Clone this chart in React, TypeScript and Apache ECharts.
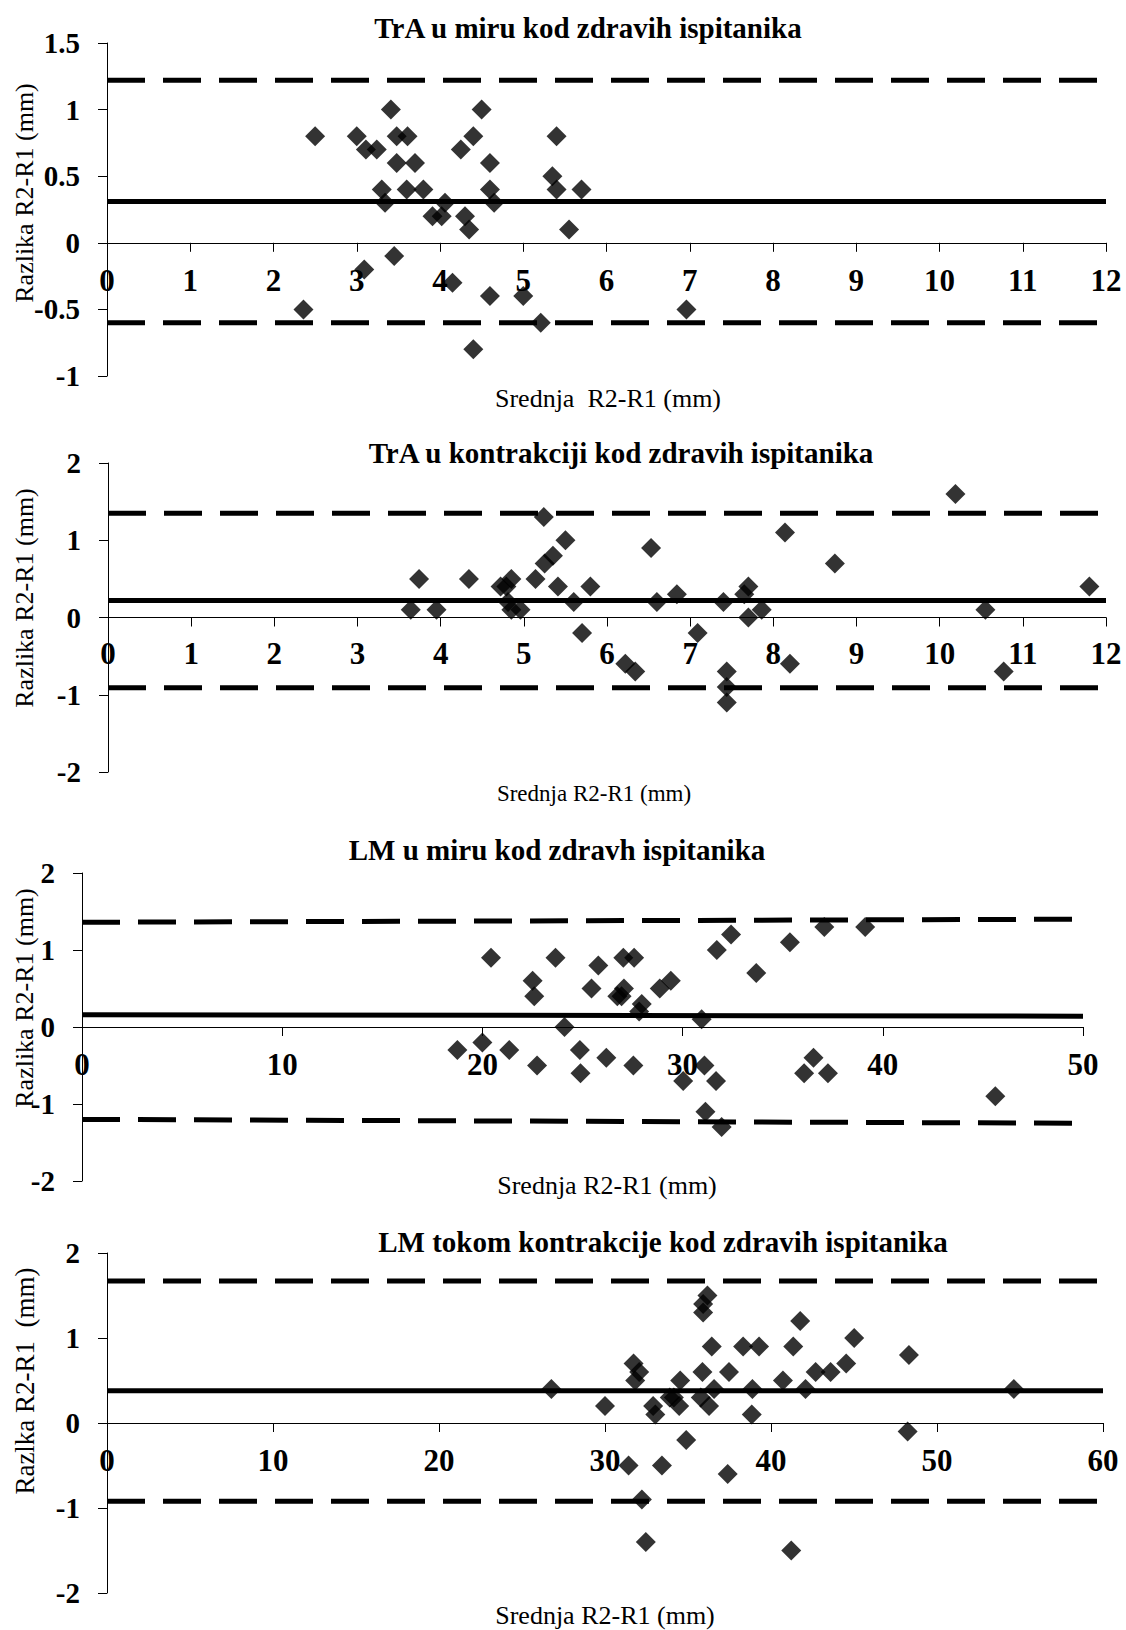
import React, { useEffect, useRef } from "react";
import * as echarts from "echarts";

const FONT = '"Liberation Serif", "Times New Roman", serif';

// ---- Panel 1: TrA u miru ----
const p1Title = "TrA u miru kod zdravih ispitanika";
const p1XName = "Srednja\u00a0 R2-R1 (mm)";
const p1YName = "Razlika R2-R1 (mm)";
const p1X = [2.5, 3.0, 3.11, 3.24, 3.41, 3.48, 3.61, 3.48, 3.7, 3.3, 3.6, 3.8, 3.34, 4.06, 3.91, 4.02, 4.3, 4.35, 4.25, 4.4, 4.5, 4.6, 4.6, 4.65, 3.45, 3.09, 4.15, 4.6, 5.0, 2.36, 5.21, 6.96, 4.4, 5.35, 5.4, 5.4, 5.7, 5.55];
const p1Y = [0.8, 0.8, 0.7, 0.7, 1.0, 0.8, 0.8, 0.6, 0.6, 0.4, 0.4, 0.4, 0.3, 0.3, 0.2, 0.2, 0.2, 0.1, 0.7, 0.8, 1.0, 0.6, 0.4, 0.3, -0.1, -0.2, -0.3, -0.4, -0.4, -0.5, -0.6, -0.5, -0.8, 0.5, 0.4, 0.8, 0.4, 0.1];
const p1Upper = [1.22, 1.22];
const p1Mean = [0.31, 0.31];
const p1Lower = [-0.6, -0.6];

// ---- Panel 2: TrA u kontrakciji ----
const p2Title = "TrA u kontrakciji kod zdravih ispitanika";
const p2XName = "Srednja R2-R1 (mm)";
const p2YName = "Razlika R2-R1 (mm)";
const p2X = [3.64, 3.74, 3.95, 4.34, 4.72, 4.85, 4.79, 4.81, 4.85, 4.96, 5.14, 5.24, 5.25, 5.35, 5.41, 5.5, 5.6, 5.7, 5.8, 6.22, 6.34, 6.53, 6.6, 6.84, 7.09, 7.4, 7.44, 7.44, 7.44, 7.65, 7.7, 7.7, 7.86, 8.14, 8.2, 8.74, 10.19, 10.55, 10.77, 11.8];
const p2Y = [0.1, 0.5, 0.1, 0.5, 0.4, 0.5, 0.4, 0.2, 0.1, 0.1, 0.5, 1.3, 0.7, 0.8, 0.4, 1.0, 0.2, -0.2, 0.4, -0.6, -0.7, 0.9, 0.2, 0.3, -0.2, 0.2, -0.7, -0.9, -1.1, 0.3, 0.4, 0.0, 0.1, 1.1, -0.6, 0.7, 1.6, 0.1, -0.7, 0.4];
const p2Upper = [1.35, 1.35];
const p2Mean = [0.22, 0.22];
const p2Lower = [-0.91, -0.91];

// ---- Panel 3: LM u miru ----
const p3Title = "LM u miru kod zdravh ispitanika";
const p3XName = "Srednja R2-R1 (mm)";
const p3YName = "Razlika R2-R1 (mm)";
const p3X = [18.75, 20.0, 20.43, 21.34, 22.51, 22.59, 22.73, 23.65, 24.1, 24.87, 24.9, 25.45, 25.79, 26.19, 26.74, 26.95, 27.04, 27.07, 27.58, 27.54, 27.96, 27.83, 28.86, 29.41, 30.03, 30.95, 31.09, 31.14, 31.67, 31.71, 31.95, 32.42, 33.68, 35.36, 36.07, 36.54, 37.08, 37.26, 39.12, 45.62];
const p3Y = [-0.3, -0.2, 0.9, -0.3, 0.6, 0.4, -0.5, 0.9, 0.0, -0.3, -0.6, 0.5, 0.8, -0.4, 0.4, 0.4, 0.9, 0.5, 0.9, -0.5, 0.3, 0.2, 0.5, 0.6, -0.7, 0.1, -0.5, -1.1, -0.7, 1.0, -1.3, 1.2, 0.7, 1.1, -0.6, -0.4, 1.3, -0.6, 1.3, -0.9];
const p3Upper = [1.36, 1.4];
const p3Mean = [0.16, 0.14];
const p3Lower = [-1.2, -1.25];

// ---- Panel 4: LM tokom kontrakcije ----
const p4Title = "LM tokom kontrakcije kod zdravih ispitanika";
const p4XName = "Srednja R2-R1 (mm)";
const p4YName = "Razlka R2-R1\u00a0 (mm)";
const p4X = [26.77, 30.0, 31.42, 31.72, 31.82, 32.06, 32.22, 32.46, 32.9, 33.03, 33.43, 33.9, 34.15, 34.47, 34.53, 34.89, 35.91, 36.17, 35.91, 35.87, 35.77, 36.27, 36.57, 36.43, 37.47, 37.39, 38.32, 38.88, 38.84, 39.28, 40.72, 41.22, 41.34, 41.76, 42.08, 42.69, 43.59, 44.53, 45.01, 48.23, 48.31, 54.63];
const p4Y = [0.4, 0.2, -0.5, 0.7, 0.5, 0.6, -0.9, -1.4, 0.2, 0.1, -0.5, 0.3, 0.3, 0.2, 0.5, -0.2, 1.4, 1.5, 1.3, 0.6, 0.3, 0.2, 0.4, 0.9, 0.6, -0.6, 0.9, 0.4, 0.1, 0.9, 0.5, -1.5, 0.9, 1.2, 0.4, 0.6, 0.6, 0.7, 1.0, -0.1, 0.8, 0.4];
const p4Upper = [1.67, 1.67];
const p4Mean = [0.38, 0.38];
const p4Lower = [-0.92, -0.92];

// axis scales
const xMaxes = [12, 12, 50, 60];
const xIntervals = [1, 1, 10, 10];
const yMins = [-1, -2, -2, -2];
const yMaxes = [1.5, 2, 2, 2];
const yIntervals = [0.5, 1, 1, 1];

type Panel = {
  xs: number[];
  ys: number[];
  upper: number[];
  mean: number[];
  lower: number[];
  grid: { left: number; top: number; width: number; height: number };
  title: { text: string; x: number; y: number };
  xName: { text: string; x: number; y: number; size: number };
  yName: { text: string; x: number; y: number; size: number };
  labelMargin: number;
};

const panels: Panel[] = [
  {
    xs: p1X, ys: p1Y, upper: p1Upper, mean: p1Mean, lower: p1Lower,
    grid: { left: 107, top: 43, width: 999, height: 333 },
    title: { text: p1Title, x: 588, y: 28 },
    xName: { text: p1XName, x: 608, y: 398, size: 26 },
    yName: { text: p1YName, x: 24, y: 193, size: 26 },
    labelMargin: 22,
  },
  {
    xs: p2X, ys: p2Y, upper: p2Upper, mean: p2Mean, lower: p2Lower,
    grid: { left: 108, top: 463, width: 998, height: 309 },
    title: { text: p2Title, x: 621, y: 453 },
    xName: { text: p2XName, x: 594, y: 793, size: 23 },
    yName: { text: p2YName, x: 24, y: 598, size: 26 },
    labelMargin: 20,
  },
  {
    xs: p3X, ys: p3Y, upper: p3Upper, mean: p3Mean, lower: p3Lower,
    grid: { left: 82, top: 873, width: 1001, height: 308 },
    title: { text: p3Title, x: 557, y: 850 },
    xName: { text: p3XName, x: 607, y: 1185, size: 26 },
    yName: { text: p3YName, x: 24, y: 998, size: 26 },
    labelMargin: 22,
  },
  {
    xs: p4X, ys: p4Y, upper: p4Upper, mean: p4Mean, lower: p4Lower,
    grid: { left: 107, top: 1253, width: 996, height: 340 },
    title: { text: p4Title, x: 663, y: 1242 },
    xName: { text: p4XName, x: 605, y: 1615, size: 26 },
    yName: { text: p4YName, x: 25, y: 1381, size: 27 },
    labelMargin: 22,
  },
];

function textEl(text: string, x: number, y: number, size: number, bold: boolean, rotate = false) {
  return {
    type: "text",
    x,
    y,
    rotation: rotate ? Math.PI / 2 : 0,
    silent: true,
    style: {
      text,
      fill: "#000",
      font: `${bold ? "bold " : ""}${size}px ${FONT}`,
      align: "center",
      verticalAlign: "middle",
      textAlign: "center",
      textVerticalAlign: "middle",
    },
  };
}

export default function App() {
  const ref = useRef<HTMLDivElement>(null);

  useEffect(() => {
    if (!ref.current) return;
    const chart = echarts.init(ref.current, undefined, { renderer: "svg" });

    const grids: any[] = [];
    const xAxes: any[] = [];
    const yAxes: any[] = [];
    const series: any[] = [];
    const graphics: any[] = [];

    panels.forEach((p, i) => {
      grids.push({ ...p.grid, containLabel: false, outerBoundsMode: "none" });
      // distance from the grid bottom up to the zero line, so the x axis sits on y = 0
      const zeroOffset = -(p.grid.height * (0 - yMins[i])) / (yMaxes[i] - yMins[i]);
      xAxes.push({
        gridIndex: i,
        type: "value",
        position: "bottom",
        offset: zeroOffset,
        min: 0,
        max: xMaxes[i],
        interval: xIntervals[i],
        axisLine: { show: true, onZero: false, lineStyle: { color: "#000", width: 1 } },
        axisTick: { show: true, inside: false, length: 9, lineStyle: { color: "#000", width: 1 } },
        axisLabel: {
          show: true,
          color: "#000",
          fontSize: 31,
          fontWeight: "bold",
          fontFamily: FONT,
          margin: p.labelMargin,
          showMinLabel: true,
          showMaxLabel: true,
          hideOverlap: false,
        },
        splitLine: { show: false },
      });
      yAxes.push({
        gridIndex: i,
        type: "value",
        min: yMins[i],
        max: yMaxes[i],
        interval: yIntervals[i],
        axisLine: { show: true, onZero: false, lineStyle: { color: "#000", width: 1 } },
        axisTick: { show: true, inside: false, length: 9, lineStyle: { color: "#000", width: 1 } },
        axisLabel: {
          show: true,
          color: "#000",
          fontSize: 29,
          fontWeight: "bold",
          fontFamily: FONT,
          margin: 27,
          showMinLabel: true,
          showMaxLabel: true,
        },
        splitLine: { show: false },
      });

      const xEnd = xMaxes[i];
      const limitLines = [
        { d: p.upper, dashed: true },
        { d: p.mean, dashed: false },
        { d: p.lower, dashed: true },
      ];
      limitLines.forEach((l) => {
        series.push({
          type: "line",
          xAxisIndex: i,
          yAxisIndex: i,
          data: [
            [0, l.d[0]],
            [xEnd, l.d[1]],
          ],
          symbol: "none",
          silent: true,
          z: 2,
          lineStyle: {
            color: "#000",
            width: 5,
            type: l.dashed ? [38, 18] : "solid",
            cap: "butt",
          },
        });
      });

      series.push({
        type: "scatter",
        xAxisIndex: i,
        yAxisIndex: i,
        symbol: "diamond",
        symbolSize: 20,
        z: 3,
        itemStyle: { color: "#000" },
        data: p.xs.map((x, k) => [x, p.ys[k]]),
      });

      graphics.push(textEl(p.title.text, p.title.x, p.title.y, 29, true));
      graphics.push(textEl(p.xName.text, p.xName.x, p.xName.y, p.xName.size, false));
      graphics.push(textEl(p.yName.text, p.yName.x, p.yName.y, p.yName.size, false, true));
    });

    chart.setOption({
      animation: false,
      backgroundColor: "#fff",
      grid: grids,
      xAxis: xAxes,
      yAxis: yAxes,
      series,
      graphic: { elements: graphics },
    });

    return () => {
      chart.dispose();
    };
  }, []);

  return (
    <div
      ref={ref}
      style={{ position: "absolute", left: 0, top: 0, width: 1126, height: 1630, background: "#fff" }}
    />
  );
}
